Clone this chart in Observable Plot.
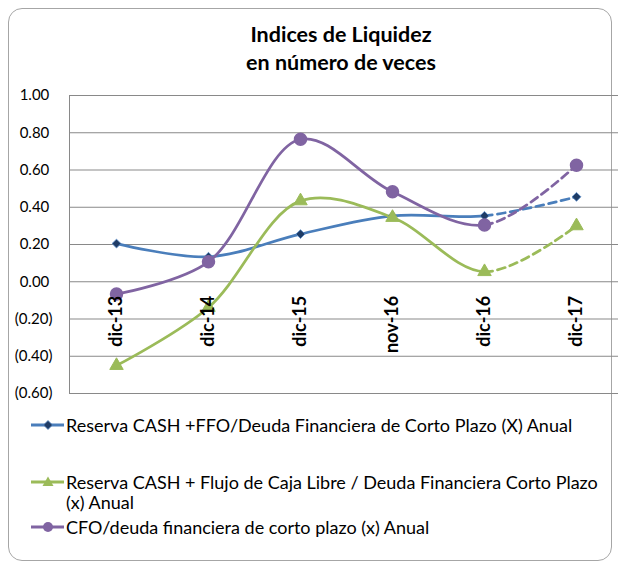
<!DOCTYPE html>
<html><head><meta charset="utf-8">
<script src="https://cdn.jsdelivr.net/npm/d3@7"></script>
<script src="https://cdn.jsdelivr.net/npm/@observablehq/plot@0.6"></script>
<style>
body{margin:0;background:#fff;font-family:Lato,"Noto Sans",sans-serif;color:#000;}
#wrap{position:relative;width:618px;height:565px;overflow:hidden;}
#border{position:absolute;left:8px;top:8px;width:604px;height:553px;border:1px solid #a6a6a6;border-radius:14px;box-sizing:border-box;}
#title{position:absolute;left:91px;width:500px;top:20px;text-align:center;font-weight:bold;font-size:21.5px;line-height:28px;}
#chart{position:absolute;left:0;top:0;}
.leg{position:absolute;left:30px;display:flex;align-items:flex-start;font-size:18px;line-height:20px;white-space:nowrap;}
.leg svg{flex:none;margin-top:4px;}
</style></head>
<body><div id="wrap">
<div id="border"></div>
<div id="title">Indices de Liquidez<br>en número de veces</div>
<div id="chart"></div>
<div id="legend"></div>
</div>
<script>
const categories = ["dic-13","dic-14","dic-15","nov-16","dic-16","dic-17"];
const seriesNames = [
  "Reserva CASH +FFO/Deuda Financiera de Corto Plazo (X) Anual",
  "Reserva CASH + Flujo de Caja Libre / Deuda Financiera Corto Plazo (x) Anual",
  "CFO/deuda financiera de corto plazo (x) Anual"
];
const reservaFFO = [0.205, 0.134, 0.256, 0.354, 0.354, 0.456];
const reservaFCL = [-0.45, -0.138, 0.434, 0.345, 0.054, 0.30];
const cfoDeuda   = [-0.066, 0.107, 0.765, 0.483, 0.305, 0.626];
const yTicks = [-0.6, -0.4, -0.2, 0, 0.2, 0.4, 0.6, 0.8, 1.0];
const lineColors = ["#4a7ebb", "#9bbb59", "#8064a2"];
const projectedFrom = "dic-16";

const seriesValues = [reservaFFO, reservaFCL, cfoDeuda];
const rows = [];
seriesNames.forEach((s, i) => categories.forEach((c, j) => rows.push({series: s, cat: c, value: seriesValues[i][j]})));

const fmt = v => v < 0 ? "(" + d3.format(".2f")(-v) + ")" : d3.format(".2f")(v) + "\u2008";

const chart = Plot.plot({
  width: 618,
  height: 400,
  marginTop: 95,
  marginBottom: 7,
  marginLeft: 69,
  marginRight: -5,
  style: {fontFamily: "Lato, 'Noto Sans', sans-serif", fontSize: "15px", color: "#000", background: "transparent"},
  x: {type: "point", domain: categories, padding: 0.5, axis: null},
  y: {domain: [-0.6, 1.0], ticks: yTicks, tickFormat: fmt, tickSize: 0, tickPadding: 17, label: null},
  color: {domain: seriesNames, range: lineColors},
  marks: [
    Plot.ruleY(yTicks, {stroke: "#898989", strokeWidth: 1}),
    Plot.frame({stroke: "#898989", strokeWidth: 1}),
    Plot.line(rows, {x: "cat", y: "value", z: "series", stroke: "series", curve: "catmull-rom", strokeWidth: 2.75}),
    Plot.dot(rows.filter(d => d.series === seriesNames[0]), {x: "cat", y: "value", symbol: "diamond2", r: 4, fill: "#1f3c66", stroke: "#5b8dc9", strokeWidth: 0.8}),
    Plot.dot(rows.filter(d => d.series === seriesNames[1]), {x: "cat", y: "value", symbol: "triangle", r: 5, fill: "#9bbb59", stroke: "#9bbb59", strokeWidth: 1}),
    Plot.dot(rows.filter(d => d.series === seriesNames[2]), {x: "cat", y: "value", symbol: "circle", r: 6, fill: "#8064a2", stroke: "#8064a2"}),
    Plot.text(categories, {x: d => d, y: () => 0, text: d => d, rotate: -90, textAnchor: "end", dy: 14, fontWeight: "bold", fontSize: 18})
  ]
});
document.getElementById("chart").append(chart);

// dashed projection for the last segment
const xProj = chart.scale("x").apply(projectedFrom);
chart.querySelectorAll('g[aria-label="line"] path').forEach(p => {
  const L = p.getTotalLength();
  let lo = 0, hi = L;
  for (let i = 0; i < 40; i++) { const m = (lo + hi) / 2; if (p.getPointAtLength(m).x < xProj) lo = m; else hi = m; }
  const parts = [lo, 0]; let r = L - lo;
  while (r > 0) { parts.push(8, 5); r -= 13; }
  p.setAttribute("stroke-dasharray", parts.join(" "));
});

// legend
const legTops = [415, 472, 517];
const markers = [
  '<path d="M18 1.5 L22.5 6 L18 10.5 L13.5 6 Z" fill="#1f3c66" stroke="#5b8dc9" stroke-width="0.8"/>',
  '<path d="M18 0.5 L23.5 10 L12.5 10 Z" fill="#9bbb59"/>',
  '<circle cx="18" cy="6" r="5" fill="#8064a2"/>'
];
const legendTexts = [
  seriesNames[0],
  "Reserva CASH + Flujo de Caja Libre / Deuda Financiera Corto Plazo<br>(x) Anual",
  seriesNames[2]
];
const legend = document.getElementById("legend");
seriesNames.forEach((s, i) => {
  const div = document.createElement("div");
  div.className = "leg";
  div.style.top = legTops[i] + "px";
  div.innerHTML = `<svg width="36" height="12"><line x1="1" x2="34" y1="6" y2="6" stroke="${lineColors[i]}" stroke-width="3"/>${markers[i]}</svg><div>${legendTexts[i]}</div>`;
  legend.append(div);
});
</script>
</body></html>
